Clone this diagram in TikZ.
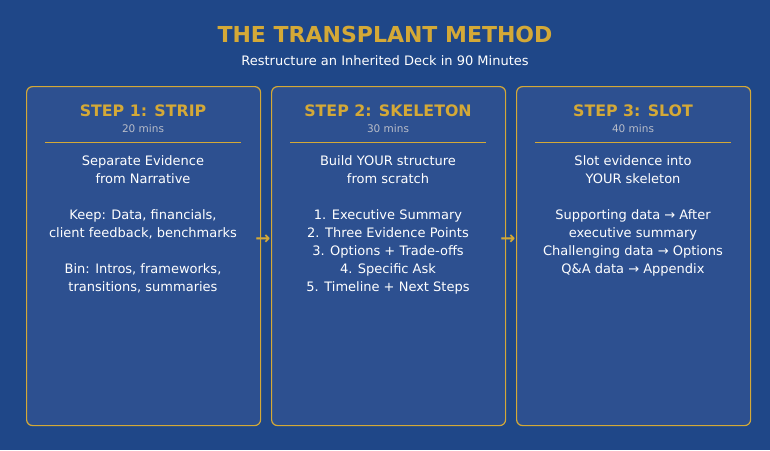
\documentclass[tikz,border=0pt]{standalone}
\usepackage{fontspec}
\setmainfont{DejaVu Sans}
\usetikzlibrary{positioning}
\definecolor{bgblue}{HTML}{1F4788}
\definecolor{boxblue}{HTML}{2D5090}
\definecolor{gold}{HTML}{D4A937}
\definecolor{mins}{HTML}{B8BCC8}
\tikzset{
    stepbox/.style={draw=gold, line width=1.2pt, fill=boxblue, rounded corners=6pt,
        minimum width=234pt, minimum height=339pt, anchor=north west},
    steptitle/.style={text=gold, font=\fontsize{15.8}{18}\selectfont\bfseries},
    steptime/.style={text=mins, font=\fontsize{10.5}{12}\selectfont},
    body/.style={text=white, align=center, anchor=north,
        font=\fontsize{13}{18}\selectfont},
    flow/.style={text=gold, font=\fontsize{18}{18}\selectfont\bfseries}
}
\begin{document}
\begin{tikzpicture}[x=1pt,y=-1pt]
    \fill[bgblue] (0,0) rectangle (770,450);
    \useasboundingbox (0,0) rectangle (770,450);

    \node[text=gold, font=\fontsize{22}{24}\selectfont\bfseries] (title) at (385,34) {THE TRANSPLANT METHOD};
    \node[text=white, font=\fontsize{13}{15}\selectfont] (subtitle) at (385,61) {Restructure an Inherited Deck in 90 Minutes};

    \node[stepbox] (s1) at (26,86) {};
    \node[stepbox] (s2) at (271,86) {};
    \node[stepbox] (s3) at (516,86) {};

    % step 1
    \node[steptitle] (t1) at (143,111) {STEP 1: STRIP};
    \node[steptime] (m1) at (143,129) {20 mins};
    \draw[gold] (45,142) -- (241,142);
    \node[body] (b1) at (143,152) {Separate Evidence\\from Narrative\\[18pt]Keep: Data, financials,\\client feedback, benchmarks\\[18pt]Bin: Intros, frameworks,\\transitions, summaries};

    % step 2
    \node[steptitle] (t2) at (388,111) {STEP 2: SKELETON};
    \node[steptime] (m2) at (388,129) {30 mins};
    \draw[gold] (290,142) -- (486,142);
    \node[body] (b2) at (388,152) {Build YOUR structure\\from scratch\\[18pt]1. Executive Summary\\2. Three Evidence Points\\3. Options + Trade-offs\\4. Specific Ask\\5. Timeline + Next Steps};

    % step 3
    \node[steptitle] (t3) at (633,111) {STEP 3: SLOT};
    \node[steptime] (m3) at (633,129) {40 mins};
    \draw[gold] (535,142) -- (731,142);
    \node[body] (b3) at (633,152) {Slot evidence into\\YOUR skeleton\\[18pt]Supporting data → After\\executive summary\\Challenging data → Options\\Q\&A data → Appendix};

    \node[flow] (f1) at (263,240) {→};
    \node[flow] (f2) at (508,240) {→};
\end{tikzpicture}
\end{document}
